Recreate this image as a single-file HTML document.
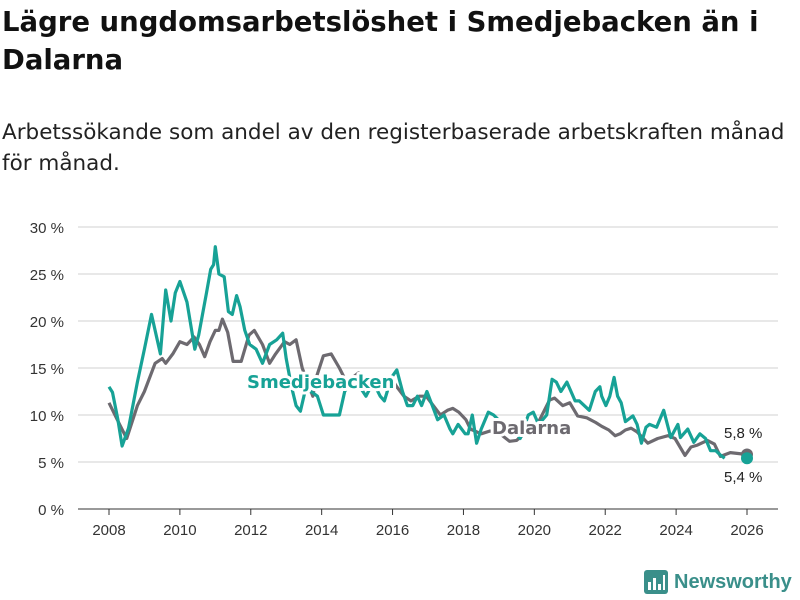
<!DOCTYPE html>
<html><head><meta charset="utf-8"><style>
body{margin:0;width:800px;height:600px;background:#fff;font-family:"Liberation Sans",sans-serif;overflow:hidden;position:relative}
#title{position:absolute;left:2px;top:3px;font-family:"DejaVu Sans",sans-serif;font-size:27.5px;font-weight:bold;line-height:38px;color:#111;width:790px}
#sub{position:absolute;left:2px;top:117px;font-family:"DejaVu Sans",sans-serif;font-size:21.5px;line-height:31px;color:#222;width:798px;white-space:nowrap}
#logo{position:absolute;left:644px;top:570px;display:flex;align-items:center;gap:6px}
#logo span{font-size:20px;font-weight:bold;color:#3a8f8a}
svg{position:absolute;left:0;top:0}
</style></head><body>
<div id="title">Lägre ungdomsarbetslöshet i Smedjebacken än i Dalarna</div>
<div id="sub">Arbetssökande som andel av den registerbaserade arbetskraften månad<br>för månad.</div>
<svg id="chart" width="800" height="600"></svg>
<div id="logo">
<svg width="24" height="24" style="position:static"><rect width="24" height="24" rx="3" fill="#3a8f8a"/><rect x="4" y="12" width="3" height="8" fill="#fff"/><rect x="9" y="8" width="3" height="12" fill="#fff"/><rect x="14" y="14" width="3" height="6" fill="#fff"/><rect x="19" y="5" width="2" height="15" fill="#fff"/></svg>
<span>Newsworthy</span></div>
<script>
const yTicks=[0,5,10,15,20,25,30];
const xTicks=[2008,2010,2012,2014,2016,2018,2020,2022,2024,2026];
const smedYears=[2008.0,2008.1,2008.25,2008.37,2008.55,2008.8,2009.0,2009.2,2009.45,2009.6,2009.75,2009.87,2010.0,2010.2,2010.42,2010.53,2010.75,2010.87,2010.95,2011.0,2011.1,2011.25,2011.37,2011.48,2011.6,2011.7,2011.83,2011.97,2012.15,2012.33,2012.53,2012.73,2012.9,2013.0,2013.15,2013.28,2013.4,2013.53,2013.7,2013.88,2014.05,2014.5,2014.65,2014.9,2015.25,2015.45,2015.65,2015.77,2015.97,2016.12,2016.28,2016.42,2016.57,2016.7,2016.82,2016.97,2017.12,2017.27,2017.45,2017.62,2017.7,2017.85,2018.05,2018.13,2018.25,2018.37,2018.5,2018.7,2018.85,2019.12,2019.32,2019.4,2019.6,2019.83,2019.97,2020.12,2020.35,2020.5,2020.62,2020.75,2020.92,2021.15,2021.27,2021.55,2021.72,2021.85,2021.9,2022.02,2022.13,2022.25,2022.35,2022.45,2022.57,2022.78,2022.9,2023.02,2023.15,2023.25,2023.45,2023.65,2023.85,2023.95,2024.05,2024.12,2024.33,2024.5,2024.67,2024.83,2024.97,2025.12,2025.26,2025.37,2025.55,2025.75,2026.0];
const smedVals=[13,12.4,9.5,6.7,8.6,13.5,17,20.7,16.5,23.3,20,23,24.2,22,17,18.5,23,25.5,26,27.9,25,24.7,21,20.7,22.7,21.5,19,17.5,17,15.5,17.5,18,18.7,16,13,11,10.4,12.5,12.5,12,10,10,12.5,14,12,13.5,12,11.5,14,14.8,12.5,11,11,12,11,12.5,11,9.5,10,8.5,8,9,8,8,10,7,8.5,10.3,10,9,8,8.5,7.5,10,10.3,9,10,13.8,13.5,12.5,13.5,11.5,11.5,10.5,12.5,13,12,11,12,14,12,11.3,9.3,9.9,9,7,8.7,9,8.7,10.5,7.6,8.3,9,7.6,8.5,7.1,8,7.5,6.2,6.2,5.7,5.4];
const dalaYears=[2008.0,2008.3,2008.5,2008.8,2009.0,2009.3,2009.5,2009.6,2009.8,2010.0,2010.2,2010.4,2010.55,2010.7,2010.85,2011.0,2011.1,2011.2,2011.35,2011.5,2011.73,2011.95,2012.1,2012.33,2012.53,2012.7,2012.95,2013.1,2013.28,2013.45,2013.65,2013.75,2013.85,2014.05,2014.27,2014.5,2014.7,2015.05,2015.4,2015.65,2015.95,2016.12,2016.32,2016.52,2016.75,2016.95,2017.15,2017.35,2017.55,2017.7,2017.87,2018.07,2018.2,2018.5,2018.75,2019.03,2019.3,2019.5,2019.72,2019.87,2020.15,2020.43,2020.57,2020.8,2021.0,2021.22,2021.48,2021.73,2021.9,2022.1,2022.28,2022.42,2022.57,2022.73,2022.9,2023.2,2023.48,2023.77,2023.97,2024.25,2024.42,2024.6,2024.88,2025.08,2025.25,2025.53,2026.0];
const dalaVals=[11.3,9,7.5,11,12.5,15.5,16,15.5,16.5,17.8,17.5,18.3,17.5,16.2,17.8,19,19,20.2,18.8,15.7,15.7,18.5,19,17.5,15.5,16.5,17.8,17.5,18,15,13,12,14,16.3,16.5,15,13.5,14.5,13.5,13,14,13,12,11.5,12,12,11,10,10.5,10.7,10.3,9.5,8.5,8,8.3,8,7.2,7.3,8,8.3,9.5,11.6,11.8,11,11.3,9.9,9.7,9.2,8.8,8.4,7.8,8,8.4,8.6,8.2,7,7.5,7.8,7.5,5.7,6.6,6.8,7.3,6.9,5.6,6,5.8];
const NS="http://www.w3.org/2000/svg";
const svg=document.getElementById('chart');
const x0=109,x1=747,yb=509,yt=227;
function xs(v){return x0+(v-2008)/(2026-2008)*(x1-x0);}
function ys(v){return yb-(v/30)*(yb-yt);}
function mk(tag,attrs,parent){const e=document.createElementNS(NS,tag);for(const k in attrs)e.setAttribute(k,attrs[k]);(parent||svg).appendChild(e);return e;}
yTicks.forEach(t=>{
 const l=mk('line',{x1:78,x2:778,y1:ys(t),y2:ys(t),stroke:t===0?'#333':'#d9d9d9','stroke-width':t===0?1:1.3});
 
 
 const tx=mk('text',{x:64,y:ys(t)+6,'text-anchor':'end','font-size':15,fill:'#333'});
 tx.textContent=t+' %';
 
 
});
xTicks.forEach(t=>{
 const l=mk('line',{x1:xs(t),x2:xs(t),y1:yb,y2:yb+6,stroke:'#333'});
 
 
 const tx=mk('text',{x:xs(t),y:535,'text-anchor':'middle','font-size':15,fill:'#333'});
 tx.textContent=t;
 
 
});
function line(yrs,vals,color,name){
 const d=yrs.map((y,i)=>(i?'L':'M')+xs(y).toFixed(1)+','+ys(vals[i]).toFixed(1)).join('');
 const p=mk('path',{d:d,fill:'none',stroke:color,'stroke-width':3.2,'stroke-linejoin':'round'});
 
 
 const c=mk('circle',{cx:xs(yrs[yrs.length-1]),cy:ys(vals[vals.length-1]),r:6,fill:color});
 
 
}
line(dalaYears,dalaVals,'#6d6a70','dalarna-line');
line(smedYears,smedVals,'#17a296','smedjebacken-line');
function lbl(txt,x,y,color,name,bold,size){
 const t=mk('text',{x:x,y:y,'font-size':size,'font-weight':bold?'bold':'normal',fill:color,stroke:'#fff','stroke-width':bold?6:0,'paint-order':'stroke','stroke-linejoin':'round','font-family':bold?'DejaVu Sans, sans-serif':'Liberation Sans, sans-serif'});
 t.textContent=txt;
 
 
}
lbl('Smedjebacken',247,388,'#17a296','smedjebacken-label',true,18);
lbl('Dalarna',492,434,'#6d6a70','dalarna-label',true,18);
lbl('5,8 %',724,438,'#222','dalarna-end-value',false,15);
lbl('5,4 %',724,482,'#222','smedjebacken-end-value',false,15);
</script>
</body></html>
